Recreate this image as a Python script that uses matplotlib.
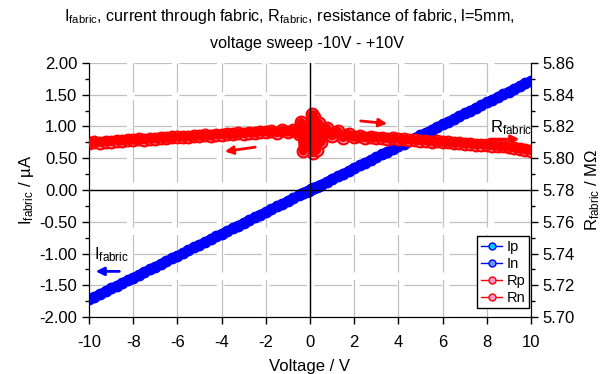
import matplotlib
matplotlib.use("Agg")
import matplotlib.pyplot as plt
from matplotlib.lines import Line2D
from matplotlib.ticker import MultipleLocator, FormatStrFormatter

plt.rcParams['font.family'] = ['Liberation Sans', 'DejaVu Sans']
plt.rcParams['mathtext.fontset'] = 'custom'
plt.rcParams['mathtext.rm'] = 'Liberation Sans'
plt.rcParams['axes.unicode_minus'] = False

# negative sweep (V, I in uA, R in MOhm)
v_neg = [-10.00, -9.75, -9.50, -9.25, -9.00, -8.75, -8.50, -8.25, -8.00, -7.75,
         -7.50, -7.25, -7.00, -6.75, -6.50, -6.25, -6.00, -5.75, -5.50, -5.25,
         -5.00, -4.75, -4.50, -4.25, -4.00, -3.75, -3.50, -3.25, -3.00, -2.75,
         -2.50, -2.25, -2.00, -1.75, -1.50, -1.25, -1.00, -0.75, -0.50, -0.40,
         -0.30, -0.20, -0.10, -0.05]
i_neg = [-1.721, -1.678, -1.635, -1.592, -1.549, -1.506, -1.463, -1.420, -1.377, -1.334,
         -1.291, -1.248, -1.205, -1.162, -1.119, -1.076, -1.033, -0.990, -0.947, -0.904,
         -0.861, -0.817, -0.774, -0.731, -0.688, -0.645, -0.602, -0.559, -0.516, -0.473,
         -0.430, -0.387, -0.344, -0.301, -0.258, -0.215, -0.172, -0.129, -0.086, -0.069,
         -0.052, -0.034, -0.017, -0.009]
r_neg = [5.8095, 5.8101, 5.8098, 5.8104, 5.8104, 5.8111, 5.8107, 5.8114, 5.8113, 5.8119,
         5.8115, 5.8122, 5.8121, 5.8127, 5.8124, 5.8131, 5.8132, 5.8135, 5.8133, 5.8139,
         5.8138, 5.8143, 5.8141, 5.8147, 5.8147, 5.8152, 5.8150, 5.8157, 5.8155, 5.8161,
         5.8158, 5.8166, 5.8165, 5.8170, 5.8160, 5.8175, 5.8163, 5.8178, 5.8150, 5.8225,
         5.8045, 5.8200, 5.8080, 5.8130]

# positive sweep
v_pos = [0.05, 0.10, 0.15, 0.20, 0.30, 0.40, 0.50, 0.75, 1.00, 1.25,
         1.50, 1.75, 2.00, 2.25, 2.50, 2.75, 3.00, 3.25, 3.50, 3.75,
         4.00, 4.25, 4.50, 4.75, 5.00, 5.25, 5.50, 5.75, 6.00, 6.25,
         6.50, 6.75, 7.00, 7.25, 7.50, 7.75, 8.00, 8.25, 8.50, 8.75,
         9.00, 9.25, 9.50, 9.75, 10.00]
i_pos = [0.009, 0.017, 0.026, 0.034, 0.052, 0.069, 0.086, 0.129, 0.172, 0.215,
         0.258, 0.301, 0.344, 0.387, 0.430, 0.473, 0.516, 0.559, 0.602, 0.645,
         0.688, 0.731, 0.774, 0.817, 0.861, 0.904, 0.947, 0.990, 1.033, 1.076,
         1.119, 1.162, 1.205, 1.248, 1.291, 1.334, 1.377, 1.420, 1.463, 1.506,
         1.549, 1.592, 1.635, 1.678, 1.721]
r_pos = [5.8150, 5.8275, 5.8035, 5.8260, 5.8050, 5.8220, 5.8100, 5.8190, 5.8140, 5.8170,
         5.8130, 5.8150, 5.8132, 5.8138, 5.8129, 5.8133, 5.8126, 5.8129, 5.8122, 5.8124,
         5.8119, 5.8118, 5.8114, 5.8115, 5.8110, 5.8109, 5.8104, 5.8106, 5.8101, 5.8099,
         5.8095, 5.8096, 5.8091, 5.8090, 5.8086, 5.8086, 5.8082, 5.8079, 5.8076, 5.8074,
         5.8069, 5.8064, 5.8058, 5.8053, 5.8047]

fig = plt.figure(figsize=(6.01, 3.74), dpi=100)
ax = fig.add_axes([0.148, 0.152, 0.7355, 0.680])
ax2 = ax.twinx()

# current: dense sweep -> thick band of markers
for v, i in ((v_pos, i_pos), (v_neg, i_neg)):
    ax.plot(v, i, '-', color='blue', lw=6.5, solid_capstyle='round', zorder=3)
    ax.plot(v, i, 'o', ms=7.5, mfc='blue', mec='blue', zorder=3)

# resistance
for v, r in ((v_pos, r_pos), (v_neg, r_neg)):
    ax2.plot(v, r, 'o', ms=8.5, mfc='#ff99cc', mec='red', mew=1.5, zorder=2)
    ax2.plot(v, r, '-', color='red', lw=6.5, solid_capstyle='round', solid_joinstyle='round', zorder=3)

ax.set_xlim(-10, 10)
ax.set_ylim(-2, 2)
ax2.set_ylim(5.70, 5.86)

ax.xaxis.set_major_locator(MultipleLocator(2))
ax.yaxis.set_major_locator(MultipleLocator(0.5))
ax.yaxis.set_minor_locator(MultipleLocator(0.25))
ax.yaxis.set_major_formatter(FormatStrFormatter('%.2f'))
ax2.yaxis.set_major_locator(MultipleLocator(0.02))
ax2.yaxis.set_minor_locator(MultipleLocator(0.01))
ax2.yaxis.set_major_formatter(FormatStrFormatter('%.2f'))

for a in (ax, ax2):
    a.tick_params(which='major', direction='out', length=5, width=1, labelsize=12, colors='black')
    a.tick_params(which='minor', direction='out', length=3, width=1)
    a.spines['top'].set_visible(False)
ax.tick_params(axis='x', pad=8)

ax.grid(True, which='major', color='#c0c0c0', lw=0.9, dashes=(30, 6))
ax.set_axisbelow(True)

# zero axes
ax2.axhline(5.78, color='black', lw=1, zorder=5)
ax2.axvline(0, color='black', lw=1, zorder=5)

ax.set_xlabel('Voltage / V', fontsize=12, labelpad=6)
ax.set_ylabel(r'$\mathregular{I_{fabric}}$ / µA', fontsize=12, labelpad=2)
ax2.set_ylabel(r'$\mathregular{R_{fabric}}$ / MΩ', fontsize=12, labelpad=6, rotation=90)

fig.text(0.481, 0.955, r'$\mathregular{I_{fabric}}$, current through fabric, $\mathregular{R_{fabric}}$, resistance of fabric, l=5mm,',
         ha='center', va='center', fontsize=11.6)
fig.text(0.511, 0.885, 'voltage sweep -10V - +10V', ha='center', va='center', fontsize=11.6)

# arrows and labels
arr_r = dict(arrowstyle='-|>', color='red', lw=2, mutation_scale=12)
arr_b = dict(arrowstyle='-|>', color='blue', lw=2, mutation_scale=12)
ax.annotate('', xy=(-3.98, 0.60), xytext=(-2.35, 0.68), arrowprops=arr_r)
ax.annotate('', xy=(3.62, 1.04), xytext=(2.17, 1.09), arrowprops=arr_r)
ax.annotate('', xy=(9.6, 0.80), xytext=(8.0, 0.80), arrowprops=arr_r)
ax.annotate('', xy=(-9.82, -1.28), xytext=(-8.5, -1.28), arrowprops=arr_b)
ax.text(8.15, 0.98, r'$\mathregular{R_{fabric}}$', fontsize=12, va='center', ha='left')
ax.text(-9.75, -1.02, r'$\mathregular{I_{fabric}}$', fontsize=12, va='center', ha='left')

handles = [
    Line2D([], [], color='blue', marker='o', ms=5, mfc='#00ccff', mec='blue', lw=1),
    Line2D([], [], color='blue', marker='o', ms=5, mfc='#6699ff', mec='blue', lw=1),
    Line2D([], [], color='red', marker='o', ms=5, mfc='#ff99cc', mec='red', lw=1),
    Line2D([], [], color='red', marker='o', ms=5, mfc='#ff99cc', mec='red', lw=1),
]
leg = ax2.legend(handles, ['Ip', 'In', 'Rp', 'Rn'], loc='lower right', bbox_to_anchor=(0.996, 0.035),
                 fontsize=10.5, frameon=True, fancybox=False, framealpha=1, edgecolor='black',
                 handlelength=1.5, handletextpad=0.3, borderpad=0.25, labelspacing=0.2, borderaxespad=0)
leg.get_frame().set_linewidth(1)
leg.set_zorder(10)

fig.savefig('out.png', dpi=100)
